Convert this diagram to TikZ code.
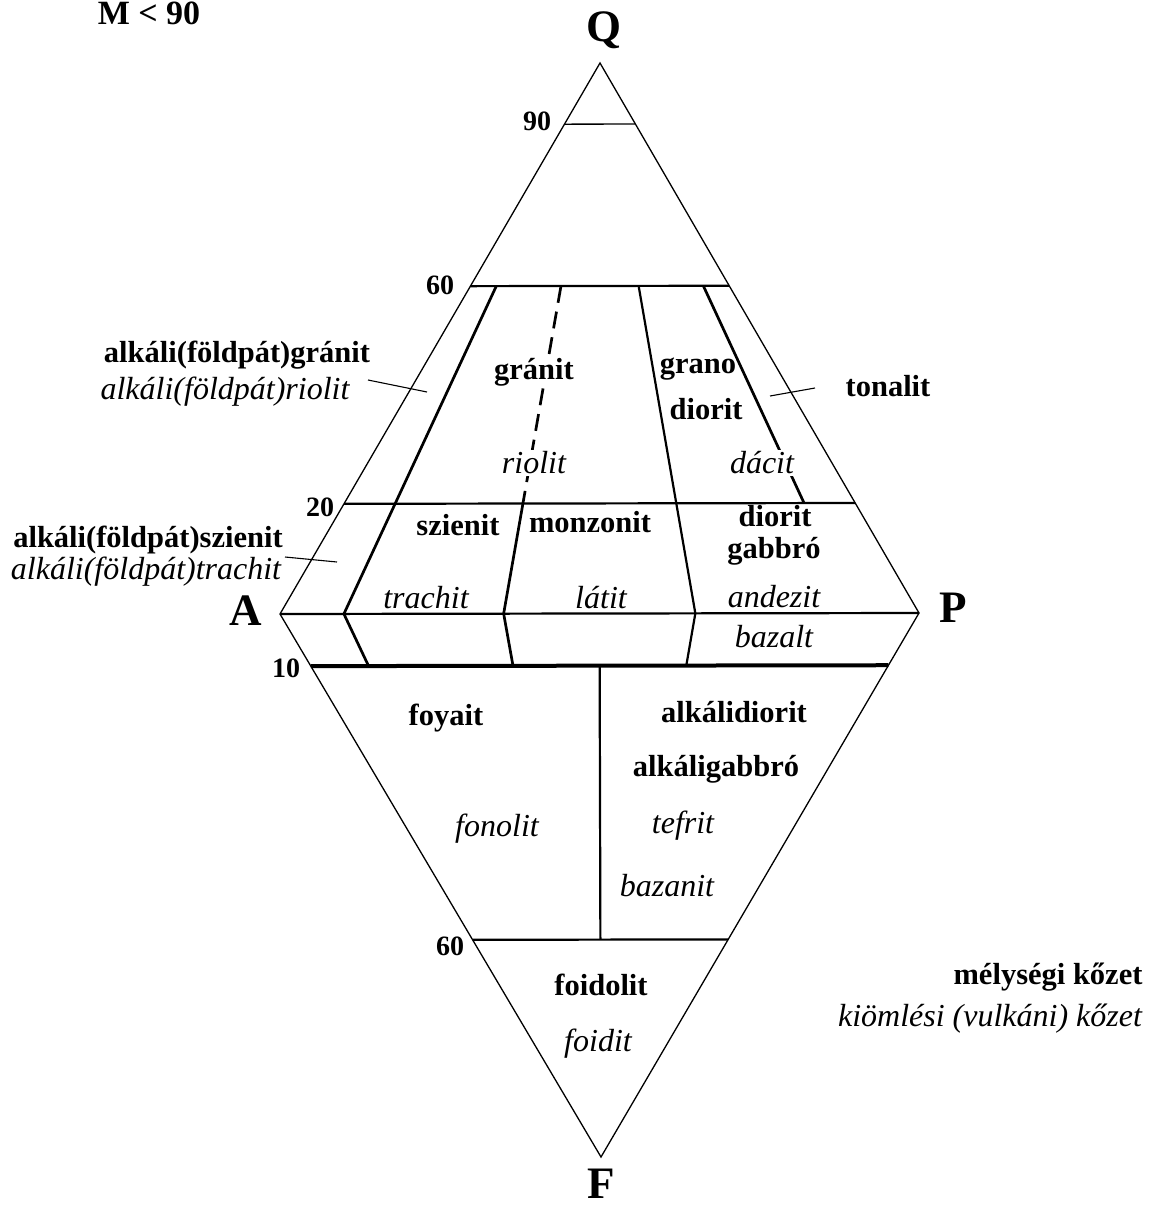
\documentclass[tikz,border=0pt]{standalone}
\usepackage{fontspec}
\setmainfont{Liberation Serif}
\usetikzlibrary{calc}
\newcommand{\lblsize}{\fontsize{30.5}{34}\selectfont}
\newcommand{\itsize}{\fontsize{32}{36}\selectfont}
\newcommand{\bigsize}{\fontsize{45}{50}\selectfont}
\newcommand{\numsize}{\fontsize{28}{32}\selectfont}
\newcommand{\titlesize}{\fontsize{34}{38}\selectfont}
\begin{document}
\begin{tikzpicture}[x=1pt,y=-1pt,
  edgeline/.style={line width=1.3pt},
  midline/.style={line width=2.2pt},
  boldline/.style={line width=2.7pt},
  thickline/.style={line width=4pt},
  leader/.style={line width=1.1pt},
  plut/.style={font=\lblsize\bfseries, inner sep=0pt, anchor=center},
  volc/.style={font=\itsize\itshape, inner sep=0pt, anchor=center},
  gap/.style={fill=white, inner sep=2pt},
  corner/.style={font=\bigsize\bfseries, inner sep=0pt, anchor=center},
  num/.style={font=\numsize\bfseries, inner sep=0pt, anchor=center}
]
\useasboundingbox (0,0) rectangle (1158,1208);

% vertices
\coordinate (Qv) at (600,63);
\coordinate (Av) at (280,614);
\coordinate (Pv) at (919,613);
\coordinate (Fv) at (601,1157);

% horizontal levels
\coordinate (q90L) at ($(Av)!0.889!(Qv)$);
\coordinate (q90R) at ($(Pv)!0.889!(Qv)$);
\coordinate (q60L) at ($(Av)!0.595!(Qv)$);
\coordinate (q60R) at ($(Pv)!0.595!(Qv)$);
\coordinate (q20L) at ($(Av)!0.2!(Qv)$);
\coordinate (q20R) at ($(Pv)!0.2!(Qv)$);
\coordinate (f10L) at ($(Av)!0.096!(Fv)$);
\coordinate (f10R) at ($(Pv)!0.096!(Fv)$);
\coordinate (f60L) at ($(Av)!0.6!(Fv)$);
\coordinate (f60R) at ($(Pv)!0.6!(Fv)$);

% radial division points
\coordinate (u1) at ($(q60L)!0.1!(q60R)$);
\coordinate (u2) at ($(q60L)!0.35!(q60R)$);
\coordinate (u3) at ($(q60L)!0.65!(q60R)$);
\coordinate (u4) at ($(q60L)!0.9!(q60R)$);
\coordinate (m2) at ($(q20L)!0.35!(q20R)$);
\coordinate (m4) at ($(q20L)!0.9!(q20R)$);
\coordinate (b1) at ($(Av)!0.1!(Pv)$);
\coordinate (b2) at ($(Av)!0.35!(Pv)$);
\coordinate (b3) at ($(Av)!0.65!(Pv)$);
\coordinate (l1) at ($(f10L)!0.1!(f10R)$);
\coordinate (l2) at ($(f10L)!0.35!(f10R)$);
\coordinate (l3) at ($(f10L)!0.65!(f10R)$);
\coordinate (vt) at ($(f10L)!0.5!(f10R)$);
\coordinate (vb) at ($(f60L)!0.5!(f60R)$);

% outline
\draw[edgeline, line join=miter] (Qv) -- (Pv) -- (Fv) -- (Av) -- cycle;
\draw[midline] (Av) -- (Pv);
\draw[edgeline] (q90L) -- (q90R);
\draw[midline] (q60L) -- (q60R);
\draw[midline] (q20L) -- (q20R);
\draw[thickline] (f10L) -- (f10R);
\draw[midline] (f60L) -- (f60R);
\draw[midline] (vt) -- (vb);

% radial lines
\draw[boldline] (u1) -- (b1) -- (l1);
\draw[boldline, dash pattern=on 17pt off 9pt] (u2) -- (m2);
\draw[boldline] (m2) -- (b2) -- (l2);
\draw[midline] (u3) -- (b3) -- (l3);
\draw[boldline] (u4) -- (m4);

% leaders
\coordinate (lgA) at (368,380); \coordinate (lgB) at (427,392);
\coordinate (lsA) at (285,557); \coordinate (lsB) at (337,562);
\coordinate (ltA) at (770,396); \coordinate (ltB) at (815,388);
\draw[leader] (lgA) -- (lgB);
\draw[leader] (lsA) -- (lsB);
\draw[leader] (ltA) -- (ltB);

% corner letters and title
\node[font=\titlesize\bfseries, anchor=base, inner sep=0pt] (title) at (149,24) {M < 90};
\node[corner] (lQ) at (604,30) {Q};
\node[corner] (lA) at (246,611) {A};
\node[corner] (lP) at (953,608) {P};
\node[corner] (lF) at (601,1184) {F};

% scale numbers
\node[num] (n90) at (537,121) {90};
\node[num] (n60) at (440,285) {60};
\node[num] (n20) at (320,507) {20};
\node[num] (n10) at (286,668) {10};
\node[num] (n60b) at (450,946) {60};

% labels
\node[plut] (t1) at (237,355) {alkáli(földpát)gránit};
\node[volc] (t2) at (225,392) {alkáli(földpát)riolit};
\node[plut] (t3) at (148,540) {alkáli(földpát)szienit};
\node[volc] (t4) at (146,572) {alkáli(földpát)trachit};
\node[plut, gap] (t5) at (534,372) {gránit};
\node[volc, gap] (t6) at (534,463) {riolit};
\node[plut] (t7) at (698,369) {grano};
\node[plut] (t8) at (706,409) {diorit};
\node[volc, gap] (t9) at (762,463) {dácit};
\node[plut] (t10) at (888,386) {tonalit};
\node[plut] (t11) at (458,525) {szienit};
\node[plut] (t12) at (590,522) {monzonit};
\node[plut] (t13) at (775,516) {diorit};
\node[plut] (t14) at (774,551) {gabbró};
\node[volc] (t15) at (426,598) {trachit};
\node[volc] (t16) at (601,598) {látit};
\node[volc] (t17) at (774,597) {andezit};
\node[volc] (t18) at (774,637) {bazalt};
\node[plut] (t19) at (446,718) {foyait};
\node[plut] (t20) at (734,712) {alkálidiorit};
\node[plut] (t21) at (716,769) {alkáligabbró};
\node[volc] (t22) at (497,829) {fonolit};
\node[volc] (t23) at (683,826) {tefrit};
\node[volc] (t24) at (667,886) {bazanit};
\node[plut] (t25) at (601,985) {foidolit};
\node[volc] (t26) at (598,1044) {foidit};
\node[plut] (k1) at (1048,977) {mélységi kőzet};
\node[volc] (k2) at (990,1019) {kiömlési (vulkáni) kőzet};
\end{tikzpicture}
\end{document}
